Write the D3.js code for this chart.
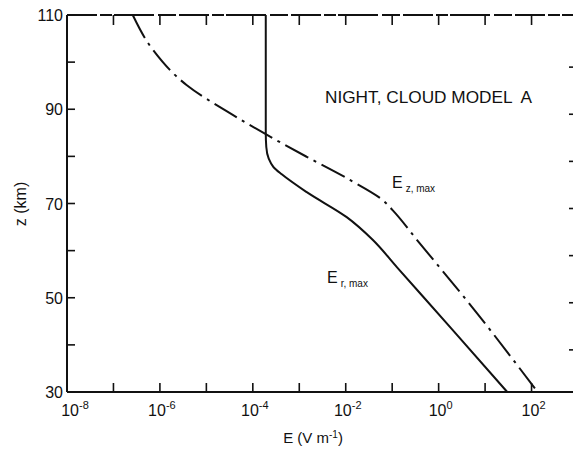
<!DOCTYPE html>
<html>
<head>
<meta charset="utf-8">
<script src="https://cdn.jsdelivr.net/npm/d3@7"></script>
<style>
  body { margin: 0; background: #fff; }
  text { font-family: "Liberation Sans", Arial, sans-serif; fill: #111; }
</style>
</head>
<body>
<svg width="573" height="450"></svg>
<script>
// altitude (km) and field (V/m)
var zR = [110, 85, 82, 79.5, 77.7, 76.2, 72.4, 67.1, 62.3, 56.5, 43.3, 30]
var eR = [1.9e-4, 1.9e-4, 1.95e-4, 2.2e-4, 2.8e-4, 4.2e-4, 1.45e-3, 1.05e-2, 3.8e-2, 0.126, 1.95, 30]

var zZ = [110, 102.6, 95.1, 88.8, 84.7, 79.9, 75.0, 70.7, 68.6, 62.3, 46.8, 30]
var eZ = [2.6e-7, 7.1e-7, 3.8e-6, 3.7e-5, 1.9e-4, 1.45e-3, 1.23e-2, 6.3e-2, 0.102, 0.34, 6.6, 135]

var xMajor = [-8, -6, -4, -2, 0, 2]
var yMajor = [30, 50, 70, 90, 110]
var yMinor = [40, 60, 80, 100]

var svg = d3.select('svg')

var x = d3.scaleLog()
  .domain([1e-8, 1e3])
  .range([67, 578])

var y = d3.scaleLinear()
  .domain([30, 110])
  .range([392, 15])

var xDecades = d3.range(-8, 4).map((p) => Math.pow(10, p))
var yTicks = yMajor.concat(yMinor)

// frame
var frame = svg.append('g')
  .style('stroke', '#111')
  .style('fill', 'none')

frame.append('line')
  .attr('x1', x(1e-8)).attr('x2', x(1e3))
  .attr('y1', y(30)).attr('y2', y(30))
  .style('stroke-width', 2)

frame.append('line')
  .attr('x1', x(1e-8)).attr('x2', x(1e3))
  .attr('y1', y(110)).attr('y2', y(110))
  .style('stroke-width', 1.8)
  .style('stroke-dasharray', '30,3,12,2,40,4,18,3')

frame.append('line')
  .attr('x1', x(1e-8)).attr('x2', x(1e-8))
  .attr('y1', y(30)).attr('y2', y(110))
  .style('stroke-width', 2)

// ticks, all pointing inward
var ticks = svg.append('g')
  .style('stroke', '#111')
  .style('stroke-width', 1.6)

ticks.selectAll('.xb')
  .data(xDecades.slice(1))
  .enter()
  .append('line')
  .attr('x1', (d) => x(d)).attr('x2', (d) => x(d))
  .attr('y1', y(30)).attr('y2', y(30) - 9)

ticks.selectAll('.xt')
  .data(xDecades.slice(1))
  .enter()
  .append('line')
  .attr('x1', (d) => x(d)).attr('x2', (d) => x(d))
  .attr('y1', y(110)).attr('y2', y(110) + 10)

ticks.selectAll('.yl')
  .data(yTicks)
  .enter()
  .append('line')
  .attr('x1', x(1e-8)).attr('x2', x(1e-8) + 8)
  .attr('y1', (d) => y(d)).attr('y2', (d) => y(d))

ticks.selectAll('.yr')
  .data(yTicks.filter((d) => d > 30 && d < 110))
  .enter()
  .append('line')
  .attr('x1', x(1e3)).attr('x2', x(1e3) - 9)
  .attr('y1', (d) => y(d) + 5).attr('y2', (d) => y(d) + 5)

// y labels
svg.append('g').selectAll('text')
  .data(yMajor)
  .enter()
  .append('text')
  .attr('x', x(1e-8) - 4)
  .attr('y', (d) => y(d) + 6)
  .attr('text-anchor', 'end')
  .style('font-size', '16px')
  .text((d) => d)

// x labels with exponents
var xl = svg.append('g').selectAll('text')
  .data(xMajor)
  .enter()
  .append('text')
  .attr('x', (d, i) => x(Math.pow(10, d)) + (i === 0 ? 8 : 2))
  .attr('y', 416)
  .attr('text-anchor', 'middle')
  .style('font-size', '16px')

xl.append('tspan').text('10')
xl.append('tspan')
  .attr('dy', -7)
  .style('font-size', '11px')
  .text((d) => (d < 0 ? '-' : '') + Math.abs(d))

// axis titles
var xt = svg.append('text')
  .attr('x', 313)
  .attr('y', 443)
  .attr('text-anchor', 'middle')
  .style('font-size', '15px')
xt.append('tspan').text('E (V m')
xt.append('tspan').attr('dy', -5).style('font-size', '10px').text('-1')
xt.append('tspan').attr('dy', 5).text(')')

svg.append('text')
  .attr('transform', 'translate(26,204) rotate(-90)')
  .attr('text-anchor', 'middle')
  .style('font-size', '16px')
  .text('z (km)')

// curves
var line = d3.line()
  .x((d) => x(d[1]))
  .y((d) => y(d[0]))
  .curve(d3.curveMonotoneY)

svg.append('path')
  .datum(d3.zip(zR, eR))
  .attr('d', line)
  .style('fill', 'none')
  .style('stroke', '#111')
  .style('stroke-width', 2)

svg.append('path')
  .datum(d3.zip(zZ, eZ))
  .attr('d', line)
  .style('fill', 'none')
  .style('stroke', '#111')
  .style('stroke-width', 2)
  .style('stroke-dasharray', '26,6,3,6')

// annotations
svg.append('text')
  .attr('x', 325)
  .attr('y', 103)
  .attr('textLength', 207)
  .attr('lengthAdjust', 'spacingAndGlyphs')
  .style('font-size', '17px')
  .style('white-space', 'pre')
  .text('NIGHT, CLOUD MODEL  A')

var lz = svg.append('text')
  .attr('x', 392)
  .attr('y', 188)
  .style('font-size', '16px')
lz.append('tspan').text('E')
lz.append('tspan').attr('dx', 3).attr('dy', 4).style('font-size', '10px').text('z, max')

var lr = svg.append('text')
  .attr('x', 327)
  .attr('y', 283)
  .style('font-size', '16px')
lr.append('tspan').text('E')
lr.append('tspan').attr('dx', 3).attr('dy', 4).style('font-size', '10px').text('r, max')
</script>
</body>
</html>
